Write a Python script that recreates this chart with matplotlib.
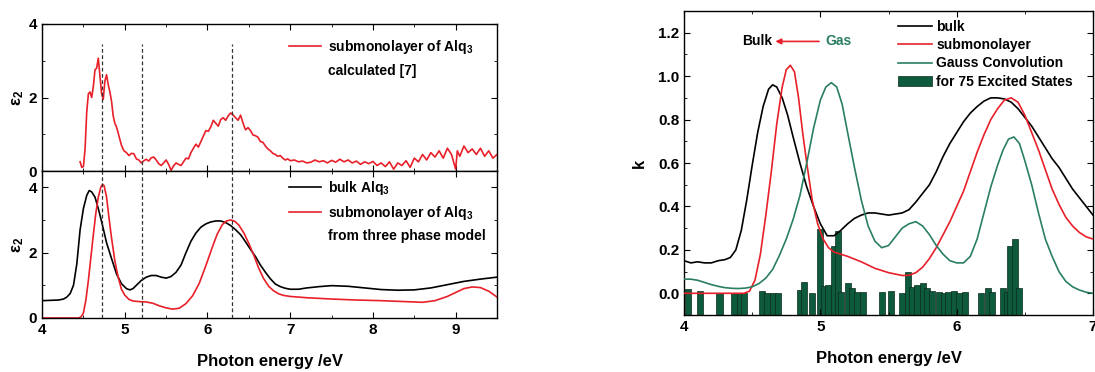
import matplotlib
matplotlib.use("Agg")
import matplotlib.pyplot as plt
from matplotlib.lines import Line2D
from matplotlib.ticker import MultipleLocator

# ===============================
# Data: left, upper panel (calculated eps2, noisy)
# ===============================
calc_E = [4.46, 4.48, 4.50, 4.52, 4.54, 4.56, 4.58, 4.60, 4.62, 4.64, 4.66, 4.68,
          4.70, 4.72, 4.74, 4.76, 4.78, 4.80, 4.82, 4.84, 4.86, 4.88, 4.90, 4.93,
          4.96, 4.99, 5.02, 5.05, 5.08, 5.11, 5.14, 5.17, 5.20, 5.23, 5.26, 5.29,
          5.32, 5.35, 5.38, 5.41, 5.44, 5.47, 5.50, 5.53, 5.56, 5.59, 5.62, 5.65,
          5.68, 5.71, 5.74, 5.77, 5.80, 5.83, 5.86, 5.89, 5.92, 5.95, 5.98, 6.01,
          6.04, 6.07, 6.10, 6.13, 6.16, 6.19, 6.22, 6.25, 6.28, 6.31, 6.34, 6.37,
          6.40, 6.43, 6.46, 6.49, 6.52, 6.55, 6.58, 6.61, 6.64, 6.67, 6.70, 6.73,
          6.76, 6.79, 6.82, 6.85, 6.88, 6.91, 6.94, 6.97, 7.00, 7.05, 7.10, 7.15,
          7.20, 7.25, 7.30, 7.35, 7.40, 7.45, 7.50, 7.55, 7.60, 7.65, 7.70, 7.75,
          7.80, 7.85, 7.90, 7.95, 8.00, 8.05, 8.10, 8.15, 8.20, 8.25, 8.30, 8.35,
          8.40, 8.45, 8.50, 8.55, 8.60, 8.65, 8.70, 8.75, 8.80, 8.85, 8.90, 8.95,
          9.00, 9.02, 9.05, 9.10, 9.15, 9.20, 9.25, 9.30, 9.35, 9.40, 9.45, 9.50]
calc_eps2 = [0.25, 0.10, 0.12, 0.60, 1.60, 2.10, 2.15, 2.00, 2.30, 2.75, 2.80, 3.07,
             2.60, 2.10, 1.95, 2.45, 2.62, 2.35, 2.15, 1.90, 1.50, 1.30, 1.20, 0.95,
             0.70, 0.55, 0.50, 0.42, 0.48, 0.47, 0.33, 0.30, 0.22, 0.28, 0.32, 0.27,
             0.36, 0.38, 0.30, 0.20, 0.15, 0.22, 0.30, 0.18, 0.02, 0.14, 0.22, 0.18,
             0.15, 0.25, 0.35, 0.33, 0.50, 0.62, 0.73, 0.65, 0.80, 0.95, 1.10, 1.08,
             1.20, 1.38, 1.30, 1.22, 1.40, 1.45, 1.38, 1.50, 1.58, 1.52, 1.45, 1.38,
             1.52, 1.30, 1.12, 1.18, 1.10, 0.98, 0.96, 0.92, 0.80, 0.78, 0.68, 0.60,
             0.55, 0.48, 0.45, 0.40, 0.42, 0.35, 0.30, 0.33, 0.28, 0.30, 0.25, 0.27,
             0.22, 0.24, 0.30, 0.25, 0.28, 0.22, 0.29, 0.24, 0.32, 0.25, 0.30, 0.22,
             0.27, 0.18, 0.25, 0.20, 0.26, 0.15, 0.22, 0.12, 0.25, 0.05, 0.22, 0.15,
             0.28, 0.10, 0.35, 0.25, 0.45, 0.30, 0.50, 0.38, 0.55, 0.35, 0.62, 0.45,
             0.05, 0.55, 0.40, 0.68, 0.50, 0.60, 0.45, 0.62, 0.40, 0.55, 0.35, 0.45]

# ===============================
# Data: left, lower panel (bulk and three phase model)
# ===============================
bulk_E = [4.00, 4.20, 4.26, 4.30, 4.34, 4.38, 4.42, 4.46, 4.50, 4.54, 4.57, 4.60,
          4.64, 4.68, 4.72, 4.78, 4.84, 4.90, 4.96, 5.02, 5.06, 5.10, 5.14, 5.20,
          5.26, 5.32, 5.38, 5.44, 5.50, 5.56, 5.62, 5.68, 5.74, 5.80, 5.86, 5.92,
          5.98, 6.04, 6.10, 6.16, 6.22, 6.28, 6.34, 6.40, 6.46, 6.52, 6.58, 6.64,
          6.70, 6.76, 6.82, 6.88, 6.94, 7.00, 7.10, 7.20, 7.35, 7.50, 7.70, 7.90,
          8.10, 8.30, 8.50, 8.70, 8.90, 9.10, 9.30, 9.50]
bulk_eps2 = [0.53, 0.55, 0.58, 0.64, 0.75, 1.00, 1.65, 2.70, 3.35, 3.75, 3.90, 3.86,
             3.70, 3.35, 2.95, 2.30, 1.82, 1.35, 1.05, 0.90, 0.86, 0.90, 1.00, 1.15,
             1.25, 1.30, 1.30, 1.25, 1.22, 1.27, 1.40, 1.62, 2.00, 2.35, 2.60, 2.78,
             2.88, 2.94, 2.97, 2.97, 2.92, 2.83, 2.70, 2.55, 2.33, 2.10, 1.88, 1.62,
             1.40, 1.20, 1.04, 0.96, 0.91, 0.88, 0.88, 0.92, 0.96, 0.99, 0.97, 0.92,
             0.87, 0.85, 0.86, 0.92, 1.02, 1.12, 1.19, 1.25]

tpm_E = [4.00, 4.44, 4.47, 4.50, 4.53, 4.56, 4.59, 4.62, 4.65, 4.68, 4.71, 4.73,
         4.75, 4.78, 4.81, 4.84, 4.88, 4.92, 4.96, 5.00, 5.05, 5.10, 5.18, 5.26,
         5.34, 5.42, 5.50, 5.58, 5.66, 5.74, 5.82, 5.90, 5.98, 6.06, 6.12, 6.18,
         6.23, 6.28, 6.33, 6.38, 6.44, 6.50, 6.56, 6.62, 6.68, 6.74, 6.80, 6.86,
         6.92, 7.00, 7.20, 7.50, 7.80, 8.10, 8.40, 8.60, 8.75, 8.90, 9.00, 9.10,
         9.20, 9.30, 9.40, 9.50]
tpm_eps2 = [0.00, 0.00, 0.03, 0.15, 0.55, 1.15, 1.85, 2.55, 3.20, 3.70, 4.00, 4.09,
            4.05, 3.70, 3.05, 2.45, 1.75, 1.25, 0.88, 0.70, 0.57, 0.52, 0.50, 0.49,
            0.45, 0.37, 0.31, 0.27, 0.30, 0.44, 0.68, 1.06, 1.60, 2.18, 2.58, 2.86,
            2.97, 3.00, 2.96, 2.84, 2.60, 2.28, 1.92, 1.52, 1.20, 0.97, 0.83, 0.74,
            0.69, 0.66, 0.62, 0.58, 0.55, 0.53, 0.50, 0.48, 0.53, 0.66, 0.78, 0.90,
            0.95, 0.93, 0.82, 0.64]

dashed_E = [4.73, 5.21, 6.30]

# ===============================
# Data: right panel (extinction coefficient k)
# ===============================
kb_E = [4.00, 4.05, 4.10, 4.15, 4.20, 4.25, 4.30, 4.34, 4.38, 4.42, 4.46, 4.50,
        4.54, 4.58, 4.62, 4.65, 4.68, 4.72, 4.76, 4.80, 4.85, 4.90, 4.95, 5.00,
        5.05, 5.10, 5.15, 5.20, 5.25, 5.30, 5.35, 5.40, 5.45, 5.50, 5.55, 5.60,
        5.65, 5.70, 5.75, 5.80, 5.85, 5.90, 5.95, 6.00, 6.05, 6.10, 6.15, 6.20,
        6.25, 6.30, 6.35, 6.40, 6.45, 6.50, 6.55, 6.60, 6.65, 6.70, 6.75, 6.80,
        6.85, 6.90, 6.95, 7.00]
k_bulk = [0.15, 0.14, 0.145, 0.14, 0.14, 0.15, 0.155, 0.165, 0.20, 0.29, 0.43, 0.59,
          0.74, 0.86, 0.94, 0.96, 0.95, 0.90, 0.82, 0.72, 0.60, 0.49, 0.40, 0.32,
          0.265, 0.265, 0.29, 0.32, 0.345, 0.36, 0.37, 0.37, 0.365, 0.36, 0.365, 0.37,
          0.385, 0.42, 0.46, 0.50, 0.56, 0.63, 0.69, 0.74, 0.79, 0.83, 0.86, 0.885,
          0.90, 0.90, 0.895, 0.88, 0.85, 0.81, 0.77, 0.72, 0.67, 0.62, 0.58, 0.53,
          0.48, 0.44, 0.40, 0.36]

ks_E = [4.00, 4.44, 4.48, 4.52, 4.56, 4.60, 4.64, 4.68, 4.72, 4.75, 4.78, 4.81,
        4.84, 4.87, 4.90, 4.94, 4.98, 5.02, 5.06, 5.10, 5.20, 5.30, 5.40, 5.50,
        5.60, 5.65, 5.70, 5.75, 5.80, 5.85, 5.90, 5.95, 6.00, 6.05, 6.10, 6.15,
        6.20, 6.25, 6.30, 6.35, 6.40, 6.45, 6.50, 6.55, 6.60, 6.65, 6.70, 6.75,
        6.80, 6.85, 6.90, 6.95, 7.00]
k_sub = [0.0, 0.0, 0.01, 0.06, 0.18, 0.36, 0.56, 0.78, 0.95, 1.03, 1.05, 1.02,
         0.90, 0.74, 0.60, 0.43, 0.32, 0.25, 0.21, 0.19, 0.17, 0.145, 0.115, 0.095,
         0.082, 0.083, 0.095, 0.12, 0.16, 0.21, 0.27, 0.33, 0.40, 0.47, 0.56, 0.65,
         0.73, 0.80, 0.85, 0.89, 0.90, 0.88, 0.82, 0.74, 0.66, 0.57, 0.48, 0.41,
         0.35, 0.31, 0.28, 0.26, 0.25]

kg_E = [4.00, 4.05, 4.10, 4.15, 4.20, 4.25, 4.30, 4.35, 4.40, 4.45, 4.50, 4.55,
        4.60, 4.65, 4.70, 4.75, 4.80, 4.85, 4.90, 4.95, 5.00, 5.04, 5.08, 5.12,
        5.16, 5.20, 5.25, 5.30, 5.35, 5.40, 5.45, 5.50, 5.55, 5.60, 5.65, 5.70,
        5.75, 5.80, 5.85, 5.90, 5.95, 6.00, 6.05, 6.10, 6.15, 6.20, 6.25, 6.30,
        6.34, 6.38, 6.42, 6.46, 6.50, 6.55, 6.60, 6.65, 6.70, 6.75, 6.80, 6.85,
        6.90, 6.95, 7.00]
k_gauss = [0.065, 0.065, 0.06, 0.05, 0.04, 0.032, 0.026, 0.023, 0.022, 0.024, 0.03, 0.045,
           0.07, 0.11, 0.175, 0.25, 0.34, 0.45, 0.60, 0.76, 0.89, 0.95, 0.97, 0.95,
           0.87, 0.74, 0.58, 0.43, 0.31, 0.24, 0.21, 0.22, 0.26, 0.30, 0.32, 0.33,
           0.31, 0.27, 0.22, 0.18, 0.15, 0.14, 0.14, 0.17, 0.25, 0.37, 0.49, 0.59,
           0.66, 0.71, 0.72, 0.69, 0.61, 0.50, 0.37, 0.25, 0.17, 0.10, 0.055, 0.03,
           0.015, 0.005, 0.0]

# excited states (oscillator strengths as bars)
state_E = [4.03, 4.12, 4.26, 4.37, 4.41, 4.44, 4.57, 4.61, 4.65, 4.69, 4.85, 4.88,
           4.94, 5.00, 5.03, 5.06, 5.10, 5.13, 5.15, 5.20, 5.23, 5.27, 5.31, 5.45,
           5.52, 5.60, 5.64, 5.67, 5.71, 5.75, 5.78, 5.82, 5.87, 5.91, 5.94, 5.98,
           6.02, 6.06, 6.18, 6.23, 6.26, 6.34, 6.37, 6.39, 6.43, 6.46]
state_k = [0.02, 0.01, 0.0, 0.0, 0.0, 0.0, 0.01, 0.0, 0.0, 0.0, 0.015, 0.05,
           0.0, 0.295, 0.035, 0.04, 0.22, 0.285, 0.005, 0.047, 0.025, 0.005, 0.005, 0.005,
           0.01, 0.0, 0.10, 0.03, 0.04, 0.047, 0.025, 0.01, 0.005, 0.0, 0.005, 0.01,
           0.0, 0.008, 0.0, 0.024, 0.006, 0.024, 0.005, 0.22, 0.25, 0.024]

RED = "#e8202a"
GREEN = "#2a7f62"
BAR = "#0e5a3c"

# ===============================
# Style
# ===============================
plt.rcParams["font.family"] = ["Liberation Sans", "DejaVu Sans"]
plt.rcParams["font.weight"] = "bold"
plt.rcParams["axes.labelweight"] = "bold"
plt.rcParams["mathtext.fontset"] = "custom"
plt.rcParams["mathtext.rm"] = "Liberation Sans:bold"
plt.rcParams["mathtext.default"] = "rm"
plt.rcParams["axes.linewidth"] = 1.0


def style_ticks(ax):
    ax.tick_params(which="both", direction="in", top=True, right=True, labelsize=11)
    ax.tick_params(which="major", length=4)
    ax.tick_params(which="minor", length=2.5)


fig = plt.figure(figsize=(10.95, 3.72), dpi=100)
ax_top = fig.add_axes([0.0384, 0.5403, 0.4155, 0.3952])
ax_bot = fig.add_axes([0.0384, 0.1452, 0.4155, 0.3952])
ax_k = fig.add_axes([0.6247, 0.1532, 0.3735, 0.8172])

# ===============================
# Left, upper panel
# ===============================
calc_line, = ax_top.plot(calc_E, calc_eps2, color=RED, lw=1.2)
ax_top.vlines(dashed_E, 0, 3.45, colors="#333333", linestyles=(0, (3, 2)), lw=0.9)
blank = Line2D([], [], color="none")
ax_top.legend([calc_line, blank], ["submonolayer of Alq$_3$", "calculated [7]"],
              loc="upper left", bbox_to_anchor=(0.53, 0.943), frameon=False,
              fontsize=10, handlelength=2.3, handletextpad=0.5, labelspacing=0.55,
              borderaxespad=0)
ax_top.set_xlim(4, 9.5)
ax_top.set_ylim(0, 4)
ax_top.set_yticks([0, 2, 4])
ax_top.yaxis.set_minor_locator(MultipleLocator(1))
ax_top.xaxis.set_major_locator(MultipleLocator(1))
ax_top.xaxis.set_minor_locator(MultipleLocator(0.5))
style_ticks(ax_top)
ax_top.tick_params(labelbottom=False)
ax_top.set_ylabel("ε$_2$", fontsize=12, labelpad=2)

# ===============================
# Left, lower panel
# ===============================
bulk_line, = ax_bot.plot(bulk_E, bulk_eps2, color="black", lw=1.2)
tpm_line, = ax_bot.plot(tpm_E, tpm_eps2, color=RED, lw=1.2)
ax_bot.vlines(dashed_E, 0, 4.5, colors="#333333", linestyles=(0, (3, 2)), lw=0.9)
ax_bot.legend([bulk_line, tpm_line, blank],
              ["bulk Alq$_3$", "submonolayer of Alq$_3$", "from three phase model"],
              loc="upper left", bbox_to_anchor=(0.53, 0.984), frameon=False,
              fontsize=10, handlelength=2.3, handletextpad=0.5, labelspacing=0.5,
              borderaxespad=0)
ax_bot.set_xlim(4, 9.5)
ax_bot.set_ylim(0, 4.5)
ax_bot.set_yticks([0, 2, 4])
ax_bot.yaxis.set_minor_locator(MultipleLocator(1))
ax_bot.xaxis.set_major_locator(MultipleLocator(1))
ax_bot.xaxis.set_minor_locator(MultipleLocator(0.5))
style_ticks(ax_bot)
ax_bot.set_ylabel("ε$_2$", fontsize=12, labelpad=2)
ax_bot.set_xlabel("Photon energy /eV", fontsize=12, labelpad=12)

# ===============================
# Right panel
# ===============================
k_base = -0.1
bar_heights = [k - k_base for k in state_k]
bars = ax_k.bar(state_E, bar_heights, bottom=k_base, width=0.045,
                color=BAR, edgecolor="#0a2a1a", linewidth=0.5, zorder=1)
l_bulk, = ax_k.plot(kb_E, k_bulk, color="black", lw=1.2, zorder=3)
l_sub, = ax_k.plot(ks_E, k_sub, color=RED, lw=1.2, zorder=3)
l_gauss, = ax_k.plot(kg_E, k_gauss, color=GREEN, lw=1.2, zorder=3)

ax_k.text(4.535, 1.16, "Bulk", ha="center", va="center", fontsize=10)
ax_k.annotate("", xy=(4.67, 1.16), xytext=(4.99, 1.16),
              arrowprops=dict(arrowstyle="-|>", color=RED, lw=1.2,
                              mutation_scale=8, shrinkA=0, shrinkB=0))
ax_k.text(5.04, 1.16, "Gas", ha="left", va="center", fontsize=10, color=GREEN)

ax_k.legend([l_bulk, l_sub, l_gauss, bars[0]],
            ["bulk", "submonolayer", "Gauss Convolution", "for 75 Excited States"],
            loc="upper left", bbox_to_anchor=(0.51, 0.99), frameon=False,
            fontsize=10, handlelength=2.4, handletextpad=0.35, labelspacing=0.32,
            borderaxespad=0)
ax_k.set_xlim(4, 7)
ax_k.set_ylim(-0.1, 1.3)
ax_k.set_yticks([0.0, 0.2, 0.4, 0.6, 0.8, 1.0, 1.2])
ax_k.yaxis.set_major_formatter(plt.FormatStrFormatter("%.1f"))
ax_k.yaxis.set_minor_locator(MultipleLocator(0.1))
ax_k.xaxis.set_major_locator(MultipleLocator(1))
ax_k.xaxis.set_minor_locator(MultipleLocator(0.5))
style_ticks(ax_k)
ax_k.set_ylabel("k", fontsize=12, labelpad=8)
ax_k.set_xlabel("Photon energy /eV", fontsize=12, labelpad=12)

fig.savefig("out.png", dpi=100)
